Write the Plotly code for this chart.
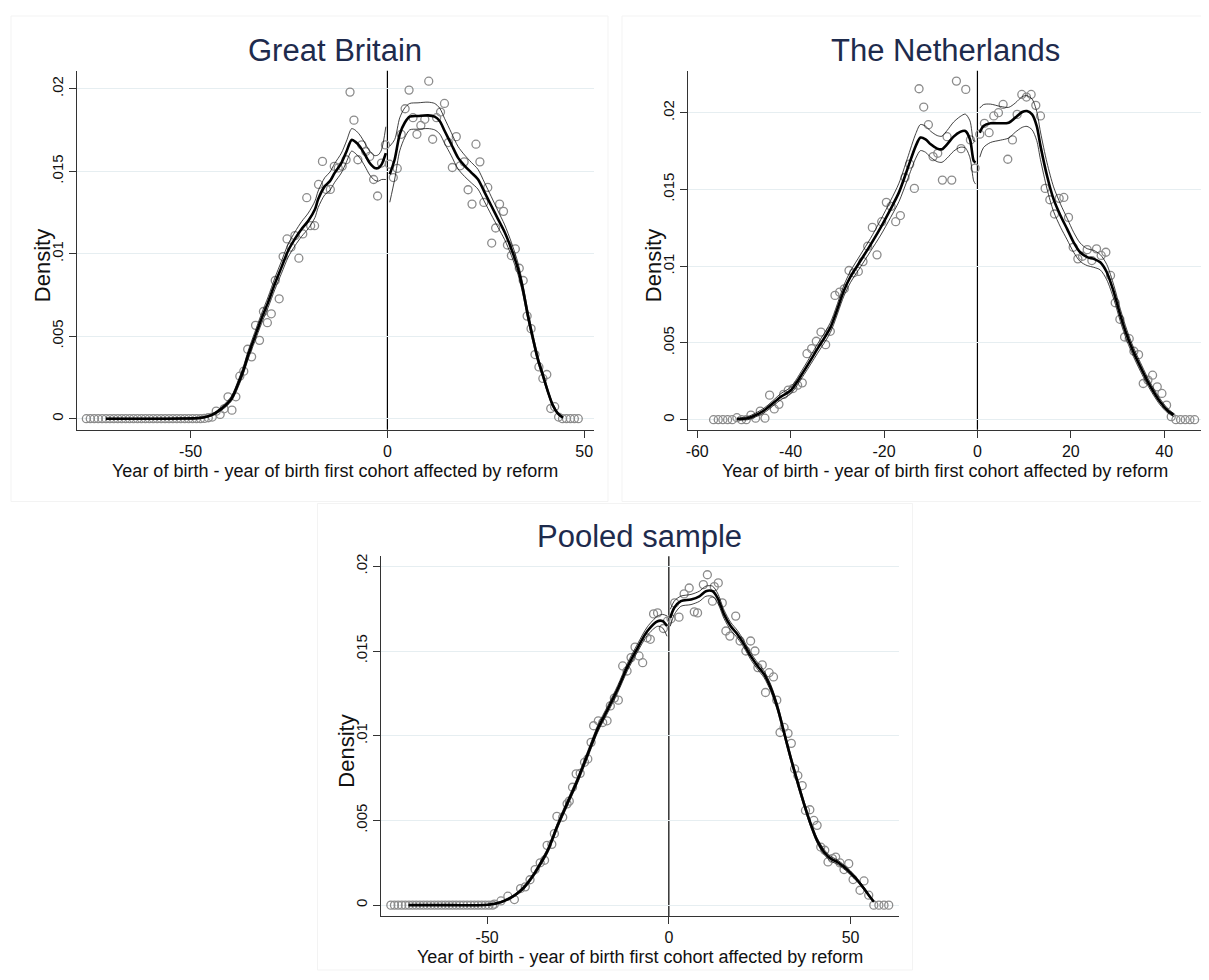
import plotly.graph_objects as go

# page body has an 8px margin: figure is laid out in reference-page pixels, shifted by OFF
OFF = 8
FW, FH = 1209 - OFF, 980 - 2 * OFF


def px_x(v):
    return (v - OFF) / FW


def px_y(v):
    return 1 - (v - OFF) / FH


# ---------------- Great Britain ----------------
gb_pts_x = [-76.5, -75.5, -74.5, -73.5, -72.5, -71.5, -70.5, -69.5, -68.5, -67.5, -66.5, -65.5, -64.5, -63.5,
            -62.5, -61.5, -60.5, -59.5, -58.5, -57.5, -56.5, -55.5, -54.5, -53.5, -52.5, -51.5, -50.5, -49.5,
            -48.5, -47.5, -46.5, -45.5, -44.5, -43.5, -42.5, -41.5, -40.5, -39.5, -38.5, -37.5, -36.5, -35.5,
            -34.5, -33.5, -32.5, -31.5, -30.5, -29.5, -28.5, -27.5, -26.5, -25.5, -24.5, -23.5, -22.5, -21.5,
            -20.5, -19.5, -18.5, -17.5, -16.5, -15.5, -14.5, -13.5, -12.5, -11.5, -10.5, -9.5, -8.5, -7.5,
            -6.5, -5.5, -4.5, -3.5, -2.5, -1.5, -0.5,
            0.5, 1.5, 2.5, 3.5, 4.5, 5.5, 6.5, 7.5, 8.5, 9.5, 10.5, 11.5, 12.5, 13.5, 14.5, 15.5, 16.5, 17.5,
            18.5, 19.5, 20.5, 21.5, 22.5, 23.5, 24.5, 25.5, 26.5, 27.5, 28.5, 29.5, 30.5, 31.5, 32.5, 33.5,
            34.5, 35.5, 36.5, 37.5, 38.5, 39.5, 40.5, 41.5, 42.5, 43.5, 44.5, 45.5, 46.5, 47.5, 48.5]
gb_pts_y = [0, 0, 0, 0, 0, 0, 0, 0, 0, 0, 0, 0, 0, 0,
            0, 0, 0, 0, 0, 0, 0, 0, 0, 0, 0, 0, 0, 0,
            0, 0, 0.00002, 0.00006, 0.0001, 0.00046, 0.00026, 0.0006, 0.00133, 0.00052, 0.00133, 0.00258, 0.00288, 0.00421,
            0.00375, 0.00566, 0.00475, 0.0065, 0.00582, 0.00636, 0.00838, 0.00727, 0.00983, 0.0109, 0.0104, 0.0111, 0.00973, 0.0112,
            0.0134, 0.0117, 0.0117, 0.0142, 0.0156, 0.0139, 0.0139, 0.0153, 0.0152, 0.0153, 0.0157, 0.0198, 0.0181, 0.0157,
            0.0166, 0.0162, 0.0159, 0.0145, 0.0135, 0.0155, 0.0166,
            0.01543, 0.01462, 0.01517, 0.01724, 0.01879, 0.01992, 0.01825, 0.01724, 0.01778, 0.01815, 0.02046, 0.01694,
            0.01825, 0.01859, 0.01911, 0.01674, 0.01523, 0.0171, 0.01533, 0.01557, 0.01388, 0.01301, 0.01664, 0.01557,
            0.01311, 0.01402, 0.01065, 0.01156, 0.01301, 0.01257, 0.01053, 0.00989, 0.01029, 0.00912, 0.00838, 0.00622,
            0.00546, 0.00389, 0.00314, 0.00244, 0.00268, 0.00062, 0.00073, 0.0001, 0, 0, 0, 0, 0]

gb_fitL_x = [-71.5, -60, -52, -47.2, -44.7, -42.1, -39.6, -37.9, -36.6, -35.4, -33.7, -32.0, -30.3, -28.6, -26.9,
             -25.2, -23.5, -21.8, -20.1, -18.4, -17.6, -15.9, -14.6, -13.4, -11.7, -10.4, -9.1, -8.2, -7.0, -5.7,
             -4.5, -3.2, -2.3, -1.5, -0.4]
gb_fitL_y = [0, 0, 0.00001, 0.00006, 0.00022, 0.00062, 0.00123, 0.00213, 0.00294, 0.00385, 0.00496, 0.00606, 0.00707,
             0.00818, 0.00919, 0.0102, 0.0109, 0.0115, 0.0120, 0.0127, 0.0133, 0.0141, 0.0144, 0.0149, 0.0155, 0.0162,
             0.0169, 0.0168, 0.0165, 0.0160, 0.0155, 0.0152, 0.0152, 0.0154, 0.0161]
gb_ciL_half = [0.00003, 0.00003, 0.00004, 0.00005, 0.00005, 0.0001, 0.00015, 0.0002, 0.00022, 0.00025, 0.00028, 0.0003,
               0.00032, 0.00035, 0.00037, 0.0004, 0.00042, 0.00045, 0.00047, 0.0005, 0.0005, 0.00052, 0.00055, 0.00057,
               0.0006, 0.00063, 0.00068, 0.0007, 0.0007, 0.0007, 0.00072, 0.00075, 0.0008, 0.0009, 0.0016]
gb_fitR_x = [0.6, 1.86, 3.13, 4.4, 5.67, 7.78, 10.32, 12.01, 13.28, 14.55, 16.24, 17.93, 19.63, 21.32, 23.0, 24.7,
             26.4, 28.1, 29.8, 31.5, 33.2, 34.4, 35.7, 37.0, 38.2, 39.5, 40.8, 42.0, 43.3, 44.6]
gb_fitR_y = [0.01482, 0.01573, 0.01724, 0.01794, 0.01831, 0.01835, 0.01839, 0.01831, 0.01805, 0.01744, 0.01664,
             0.01583, 0.01533, 0.01492, 0.01452, 0.01372, 0.01291, 0.0121, 0.0113, 0.01029, 0.00908, 0.00787,
             0.00626, 0.00485, 0.00364, 0.00264, 0.00163, 0.00083, 0.00032, 0.00006]
gb_ciR_half = [0.0017, 0.0012, 0.001, 0.0009, 0.0008, 0.0008, 0.0008, 0.0008, 0.00078, 0.00075, 0.0007, 0.00068,
               0.00065, 0.00062, 0.0006, 0.00058, 0.00055, 0.0005, 0.00045, 0.0004, 0.00035, 0.0003, 0.00027,
               0.00024, 0.0002, 0.00017, 0.00013, 0.0001, 0.00006, 0.00003]

# ---------------- The Netherlands ----------------
nl_pts_x = [-56.5, -55.5, -54.5, -53.5, -52.5, -51.5, -50.5, -49.5, -48.5, -47.5, -46.5, -45.5, -44.5, -43.5,
            -42.5, -41.5, -40.5, -39.5, -38.5, -37.5, -36.5, -35.5, -34.5, -33.5, -32.5, -31.5, -30.5, -29.5,
            -28.5, -27.5, -26.5, -25.5, -24.5, -23.5, -22.5, -21.5, -20.5, -19.5, -18.5, -17.5, -16.5, -15.5,
            -14.5, -13.5, -12.5, -11.5, -10.5, -9.5, -8.5, -7.5, -6.5, -5.5, -4.5, -3.5, -2.5, -1.5, -0.5,
            0.5, 1.5, 2.5, 3.5, 4.5, 5.5, 6.5, 7.5, 8.5, 9.5, 10.5, 11.5, 12.5, 13.5, 14.5, 15.5, 16.5, 17.5,
            18.5, 19.5, 20.5, 21.5, 22.5, 23.5, 24.5, 25.5, 26.5, 27.5, 28.5, 29.5, 30.5, 31.5, 32.5, 33.5,
            34.5, 35.5, 36.5, 37.5, 38.5, 39.5, 40.5, 41.5, 42.5, 43.5, 44.5, 45.5, 46.5]
nl_pts_y = [0, 0, 0, 0, 0, 0.00013, 0, 0, 0.0003, 0.0001, 0.00056, 0.0001, 0.0016, 0.0007,
            0.001, 0.00165, 0.00193, 0.00203, 0.00225, 0.0024, 0.0043, 0.00463, 0.00511, 0.00571, 0.00489, 0.00576, 0.0081, 0.00831,
            0.00853, 0.00972, 0.00957, 0.00966, 0.0103, 0.0113, 0.01253, 0.01074, 0.0129, 0.01416, 0.0139, 0.0129, 0.0133, 0.01578,
            0.01665, 0.01507, 0.02156, 0.02037, 0.01922, 0.01714, 0.01736, 0.01561, 0.01844, 0.01561, 0.02206, 0.01766, 0.02152,
            0.01823, 0.01639,
            0.0186, 0.01931, 0.0187, 0.01979, 0.02, 0.02054, 0.01697, 0.01823, 0.01989, 0.02119, 0.02102, 0.02119, 0.02048,
            0.01979, 0.01507, 0.01433, 0.0134, 0.01442, 0.01448, 0.01318, 0.01123, 0.01048, 0.01065, 0.01108, 0.01037,
            0.01113, 0.0107, 0.01091, 0.0094, 0.00762, 0.00654, 0.00539, 0.00528, 0.00446, 0.00424, 0.00236, 0.00258,
            0.0029, 0.00214, 0.00171, 0.00095, 0.0002, 0, 0, 0, 0, 0]

nl_fitL_x = [-51.5, -49.2, -45.7, -42.1, -40.0, -37.1, -34.3, -31.5, -28.6, -27.2, -25.0, -22.9, -20.7, -18.6,
             -16.8, -15.0, -13.2, -12.2, -11.1, -10.0, -8.6, -7.6, -6.5, -5.1, -3.7, -2.6, -1.6, -0.8, -0.4]
nl_fitL_y = [0.00005, 0.0001, 0.0006, 0.0015, 0.0019, 0.0032, 0.0046, 0.006, 0.0084, 0.0093, 0.01037, 0.01139,
             0.01253, 0.01372, 0.01481, 0.01632, 0.01784, 0.01838, 0.01827, 0.01794, 0.01766, 0.01762, 0.01794,
             0.01844, 0.01875, 0.01881, 0.01827, 0.01686, 0.01675]
nl_ciL_half = [0.00005, 0.0001, 0.00015, 0.0002, 0.00022, 0.00025, 0.0003, 0.00032, 0.00035, 0.00037, 0.0004,
               0.00042, 0.0005, 0.00055, 0.0006, 0.0007, 0.0008, 0.00085, 0.00085, 0.00085, 0.00085, 0.00085,
               0.0009, 0.00095, 0.001, 0.0011, 0.0012, 0.0013, 0.0014]
nl_fitR_x = [0.5, 1.3, 2.8, 4.9, 6.7, 8.1, 9.6, 10.6, 11.7, 12.7, 13.5, 14.9, 16.3, 17.8, 19.2, 20.6, 22.0, 23.5,
             24.9, 26.3, 27.7, 29.2, 30.6, 32.0, 33.4, 34.9, 36.3, 37.7, 39.1, 40.6, 42.0]
nl_fitR_y = [0.0187, 0.01913, 0.01931, 0.01931, 0.01935, 0.01968, 0.02005, 0.02011, 0.01989, 0.01913, 0.01784,
             0.01589, 0.01437, 0.01329, 0.01243, 0.01156, 0.01091, 0.01059, 0.01048, 0.01026, 0.00961, 0.00831,
             0.0068, 0.0055, 0.00442, 0.00344, 0.00258, 0.00182, 0.00117, 0.00063, 0.0003]
nl_ciR_half = [0.0016, 0.0014, 0.00125, 0.0011, 0.001, 0.00095, 0.001, 0.001, 0.001, 0.00095, 0.0009, 0.00085,
               0.0008, 0.00075, 0.0007, 0.00065, 0.0006, 0.00055, 0.00055, 0.0005, 0.0005, 0.00045, 0.0004,
               0.00035, 0.0003, 0.00028, 0.00025, 0.00022, 0.0002, 0.00015, 0.0001]

# ---------------- Pooled sample ----------------
po_pts_x = [-76.5, -75.5, -74.5, -73.5, -72.5, -71.5, -70.5, -69.5, -68.5, -67.5, -66.5, -65.5, -64.5, -63.5,
            -62.5, -61.5, -60.5, -59.5, -58.5, -57.5, -56.5, -55.5, -54.5, -53.5, -52.5, -51.5, -50.5, -49.5,
            -48.5, -48.0, -46.2, -44.3, -42.5, -40.8, -39.5, -38.2, -36.8, -35.4, -34.2, -33.5, -32.2, -31.5,
            -30.8, -29.2, -28.0, -27.4, -26.5, -25.5, -24.4, -23.2, -22.3, -21.4, -20.7, -19.4, -18.2, -17.0,
            -16.1, -15.0, -13.9, -12.7, -11.5, -10.4, -9.3, -8.2, -7.2, -6.0, -5.1, -4.2, -3.1, -1.5, -0.4,
            0.6, 1.6, 2.8, 4.2, 5.6, 7.0, 7.9, 9.5, 10.6, 12.0, 12.5, 13.6, 14.7, 15.7, 16.8, 18.4, 19.6, 21.2,
            22.5, 23.7, 24.5, 25.7, 26.6, 27.6, 28.8, 29.7, 30.6, 31.7, 32.8, 33.7, 34.6, 35.5, 36.7, 37.6,
            38.8, 39.9, 40.8, 41.8, 42.9, 43.8, 45.0, 45.9, 47.1, 48.2, 49.5, 50.7, 52.6, 53.7, 55.0, 56.4,
            57.8, 59.2, 60.5]
po_pts_y = [0, 0, 0, 0, 0, 0, 0, 0, 0, 0, 0, 0, 0, 0,
            0, 0, 0, 0, 0, 0, 0, 0, 0, 0, 0, 0, 0, 0,
            0, 0.00006, 0.00025, 0.00053, 0.00033, 0.00098, 0.00108, 0.0015, 0.0021, 0.0025, 0.00265, 0.00353,
            0.00359, 0.00422, 0.00524, 0.00519, 0.00598, 0.00614, 0.00696, 0.00775, 0.00778, 0.00843, 0.00863,
            0.00961, 0.01059, 0.01088, 0.01078, 0.01088, 0.01176, 0.01222, 0.0121, 0.01412, 0.01382, 0.01461,
            0.01523, 0.01471, 0.01431, 0.01578, 0.01569, 0.01719, 0.01725, 0.01633, 0.01676,
            0.0169, 0.01784, 0.017, 0.01837, 0.01872, 0.01731, 0.01725, 0.01892, 0.0195, 0.01794, 0.0188, 0.01902,
            0.01784, 0.01618, 0.01588, 0.01706, 0.01559, 0.015, 0.01559, 0.015, 0.01402, 0.01418, 0.01255, 0.01372,
            0.01347, 0.0121, 0.01019, 0.01049, 0.01014, 0.00955, 0.00804, 0.00765, 0.00706, 0.00559, 0.00563,
            0.005, 0.00471, 0.00343, 0.00324, 0.00255, 0.00275, 0.00284, 0.00249, 0.0021, 0.00245, 0.00151,
            0.00088, 0.00143, 0.00059, 0, 0, 0, 0]

po_fitL_x = [-71.6, -60, -49.8, -46.2, -42.5, -39.8, -37.0, -35.2, -33.3, -30.6, -27.8, -25.1, -22.3, -19.6,
             -16.8, -14.1, -11.4, -8.6, -5.9, -3.1, -1.7, -0.5]
po_fitL_y = [0, 0, 0.00002, 0.00018, 0.00057, 0.00106, 0.00186, 0.0025, 0.00324, 0.00471, 0.00608, 0.00739,
             0.00892, 0.01039, 0.01157, 0.01274, 0.01406, 0.01519, 0.01618, 0.01676, 0.01676, 0.01647]
po_ciL_half = [0.00002, 0.00002, 0.00003, 0.00005, 0.00007, 0.0001, 0.00012, 0.00013, 0.00015, 0.00016, 0.00017,
               0.00018, 0.00019, 0.0002, 0.0002, 0.00021, 0.00022, 0.00023, 0.00025, 0.0003, 0.0004, 0.0006]
po_fitR_x = [0.4, 1.5, 3.3, 6.1, 8.4, 10.2, 12.0, 13.4, 15.2, 17.0, 18.9, 20.7, 22.5, 24.4, 26.2, 28.0, 29.9,
             31.7, 33.5, 35.3, 37.2, 39.0, 40.8, 42.7, 44.5, 46.3, 48.2, 50.0, 51.9, 53.7, 55.5, 56.4]
po_fitR_y = [0.01696, 0.01755, 0.01794, 0.01804, 0.01823, 0.01853, 0.01853, 0.01814, 0.01716, 0.01647, 0.01598,
             0.01539, 0.01471, 0.01412, 0.01363, 0.01284, 0.01166, 0.01019, 0.00872, 0.00735, 0.00598, 0.0048,
             0.00382, 0.00314, 0.00275, 0.00255, 0.00225, 0.0019, 0.00147, 0.00098, 0.00045, 0.0002]
po_ciR_half = [0.0005, 0.0004, 0.0003, 0.0003, 0.0003, 0.0003, 0.0003, 0.00028, 0.00025, 0.00023, 0.00022, 0.0002,
               0.0002, 0.0002, 0.0002, 0.0002, 0.0002, 0.00019, 0.00018, 0.00018, 0.00017, 0.00016, 0.00015,
               0.00015, 0.00014, 0.00013, 0.00012, 0.00012, 0.0001, 0.00008, 0.00006, 0.00004]

titles = ["Great Britain", "The Netherlands", "Pooled sample"]
x_title = "Year of birth - year of birth first cohort affected by reform"
y_title = "Density"
y_tickvals = [0, 0.005, 0.01, 0.015, 0.02]
y_ticktext = ["0", ".005", ".01", ".015", ".02"]
x_tickvals = [[-50, 0, 50], [-60, -40, -20, 0, 20, 40], [-50, 0, 50]]
x_ticktext = [["-50", "0", "50"], ["-60", "-40", "-20", "0", "20", "40"], ["-50", "0", "50"]]

# plot-area boxes in reference-page pixels (left, right, top, bottom) and axis ranges
boxes = [(75, 593, 68, 428), (687, 1203, 68, 428), (380, 898, 555, 916)]
xranges = [[-78.9, 52.5], [-62.0, 48.3], [-79.1, 63.2]]
yranges = [[-0.000665, 0.02109], [-0.00065, 0.02273], [-0.00065, 0.02059]]

panels = [
    (gb_pts_x, gb_pts_y, gb_fitL_x, gb_fitL_y, gb_ciL_half, gb_fitR_x, gb_fitR_y, gb_ciR_half),
    (nl_pts_x, nl_pts_y, nl_fitL_x, nl_fitL_y, nl_ciL_half, nl_fitR_x, nl_fitR_y, nl_ciR_half),
    (po_pts_x, po_pts_y, po_fitL_x, po_fitL_y, po_ciL_half, po_fitR_x, po_fitR_y, po_ciR_half),
]

FONT = "Liberation Sans, Arial, sans-serif"
TITLE_COLOR = "#1e2b4d"

fig = go.Figure()
layout = dict(width=FW, height=FH, margin=dict(l=0, r=0, t=0, b=0), paper_bgcolor="white",
              plot_bgcolor="white", showlegend=False, shapes=[], annotations=[])

for i, (px_, py_, lx, ly, lh, rx, ry, rh) in enumerate(panels):
    n = "" if i == 0 else str(i + 1)
    xa, ya = "x" + n, "y" + n
    L, R, T, B = boxes[i]
    fig.add_trace(go.Scatter(x=px_, y=py_, mode="markers", xaxis=xa, yaxis=ya,
                             marker=dict(symbol="circle-open", size=8, color="#8c8c8c",
                                         line=dict(width=1.3, color="#8c8c8c"))))
    for fx, fy, hw in ((lx, ly, lh), (rx, ry, rh)):
        up = [a + b for a, b in zip(fy, hw)]
        lo = [a - b for a, b in zip(fy, hw)]
        for yy in (up, lo):
            fig.add_trace(go.Scatter(x=fx, y=yy, mode="lines", xaxis=xa, yaxis=ya,
                                     line=dict(color="#111111", width=0.8, shape="spline", smoothing=0.8)))
        fig.add_trace(go.Scatter(x=fx, y=fy, mode="lines", xaxis=xa, yaxis=ya,
                                 line=dict(color="#000000", width=2.6, shape="spline", smoothing=0.8)))
    axis_common = dict(showline=True, linecolor="#333333", linewidth=1, ticks="outside", ticklen=7,
                       tickwidth=1, tickcolor="#333333", zeroline=False)
    layout["xaxis" + n] = dict(domain=[px_x(L), px_x(R)], range=xranges[i], anchor=ya,
                               tickvals=x_tickvals[i], ticktext=x_ticktext[i], showgrid=False,
                               tickfont=dict(family=FONT, size=16, color="#111111"), **axis_common)
    layout["yaxis" + n] = dict(domain=[px_y(B), px_y(T)], range=yranges[i], anchor=xa,
                               tickvals=y_tickvals, ticktext=y_ticktext, tickangle=-90,
                               showgrid=True, gridcolor="#e6eef1", gridwidth=1,
                               tickfont=dict(family=FONT, size=15, color="#111111"), **axis_common)
    layout["shapes"].append(dict(type="line", xref=xa, yref=ya + " domain", x0=0, x1=0, y0=0, y1=1,
                                 line=dict(color="#000000", width=1.2), layer="below"))
    cx = (L + R) / 2
    layout["annotations"].append(dict(text=titles[i], xref="paper", yref="paper", x=px_x(cx),
                                      y=px_y(T - 20), xanchor="center", yanchor="middle",
                                      showarrow=False, font=dict(family=FONT, size=31, color=TITLE_COLOR)))
    layout["annotations"].append(dict(text=x_title, xref="paper", yref="paper", x=px_x(cx),
                                      y=px_y(B + 41), xanchor="center", yanchor="middle",
                                      showarrow=False, font=dict(family=FONT, size=18, color="#111111")))
    layout["annotations"].append(dict(text=y_title, xref="paper", yref="paper", x=px_x(L - 35),
                                      y=px_y((T + B) / 2 + 15), xanchor="center", yanchor="middle",
                                      textangle=-90, showarrow=False,
                                      font=dict(family=FONT, size=22, color="#111111")))

for (x0, x1, y0, y1) in [(9, 607, 13, 500), (621, 1207, 13, 500), (316, 912, 502, 970)]:
    layout["shapes"].append(dict(type="rect", xref="paper", yref="paper", x0=px_x(x0), x1=px_x(x1),
                                 y0=px_y(y1), y1=px_y(y0), line=dict(color="#f3f3f3", width=1),
                                 layer="below"))

fig.update_layout(**layout)
fig.write_html("out.html")
